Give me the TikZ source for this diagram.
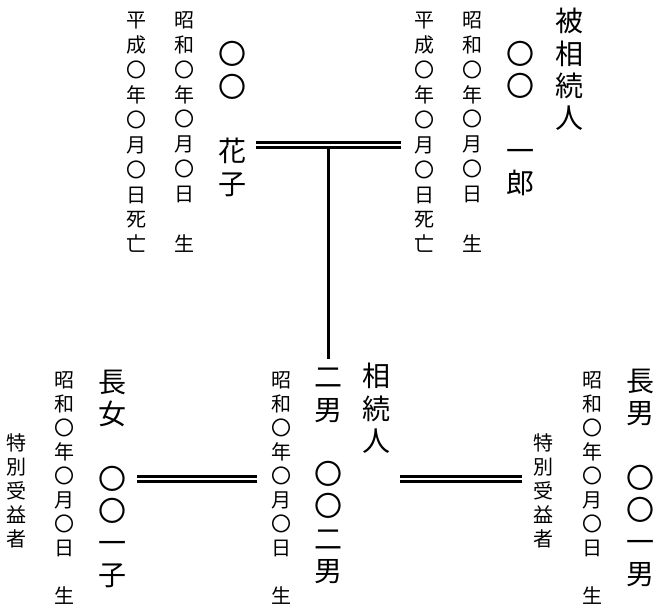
\documentclass[tikz,border=0pt]{standalone}
\usepackage{fontspec}
\newfontfamily\cjk{Noto Sans CJK JP}
\tikzset{
  big/.style={font=\cjk\fontsize{28}{32.3}\selectfont, align=center, inner sep=0pt},
  smalltop/.style={font=\cjk\fontsize{20}{24.9}\selectfont, align=center, inner sep=0pt},
  smallbot/.style={font=\cjk\fontsize{20}{24}\selectfont, align=center, inner sep=0pt},
  marriage/.style={double, line width=2.5pt, double distance=2.5pt},
  descent/.style={line width=3pt}
}
\begin{document}
\begin{tikzpicture}[x=1pt,y=-1pt]
\useasboundingbox (0,0) rectangle (664,614);
% top row
\node[big] (hisozoku) at (569,69.5) {被\\相\\続\\人};
\node[big] (ichiro) at (520,118.5) {〇\\〇\\　\\一\\郎};
\node[smalltop] (ichirob) at (472,132) {昭\\和\\〇\\年\\〇\\月\\〇\\日\\　\\生};
\node[smalltop] (ichirod) at (424,132.5) {平\\成\\〇\\年\\〇\\月\\〇\\日\\死\\亡};
\node[big] (hanako) at (232,119) {〇\\〇\\　\\花\\子};
\node[smalltop] (hanakob) at (184,132) {昭\\和\\〇\\年\\〇\\月\\〇\\日\\　\\生};
\node[smalltop] (hanakod) at (136,132.5) {平\\成\\〇\\年\\〇\\月\\〇\\日\\死\\亡};
% bottom row
\node[big] (chonan) at (640,478) {長\\男\\　\\〇\\〇\\一\\男};
\node[smallbot] (chonanb) at (592,488.5) {昭\\和\\〇\\年\\〇\\月\\〇\\日\\　\\生};
\node[smallbot] (tokuR) at (543,490.5) {特\\別\\受\\益\\者};
\node[big] (sozoku) at (376,408.5) {相\\続\\人};
\node[big] (jinan) at (328,476) {二\\男\\　\\〇\\〇\\二\\男};
\node[smallbot] (jinanb) at (281,488.5) {昭\\和\\〇\\年\\〇\\月\\〇\\日\\　\\生};
\node[big] (chojo) at (112,479) {長\\女\\　\\〇\\〇\\一\\子};
\node[smallbot] (chojob) at (64,488.5) {昭\\和\\〇\\年\\〇\\月\\〇\\日\\　\\生};
\node[smallbot] (tokuL) at (16,491) {特\\別\\受\\益\\者};
% connectors
\coordinate (mLeft) at (256,145);
\coordinate (mRight) at (401,145);
\coordinate (mMid) at (328.5,147);
\coordinate (jinanTop) at (328.5,359);
\draw[marriage] (mLeft) -- (mRight);
\draw[descent] (mMid) -- (jinanTop);
\coordinate (bL1) at (137,479);
\coordinate (bL2) at (257,479);
\coordinate (bR1) at (400,479);
\coordinate (bR2) at (522,479);
\draw[marriage] (bL1) -- (bL2);
\draw[marriage] (bR1) -- (bR2);
\end{tikzpicture}
\end{document}
